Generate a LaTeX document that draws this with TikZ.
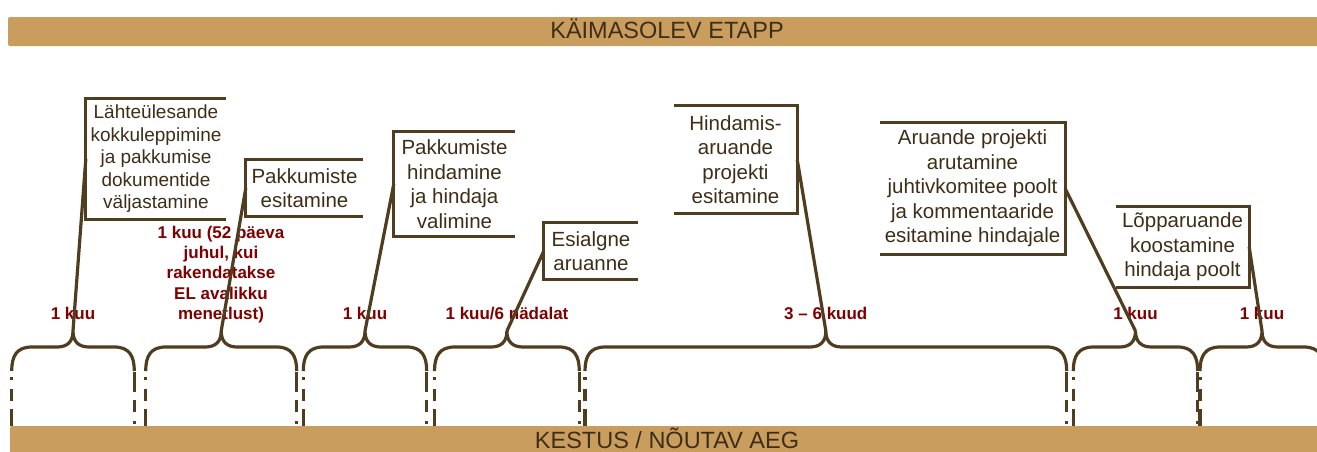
\documentclass[tikz,border=0pt]{standalone}
\usepackage{fontspec}
\setmainfont{Liberation Sans}

\definecolor{barbrown}{RGB}{201,157,94}
\definecolor{linebrown}{RGB}{80,60,30}
\definecolor{textbrown}{RGB}{62,46,24}
\definecolor{durred}{RGB}{128,0,0}

\begin{document}
\begin{tikzpicture}[x=1pt, y=-1pt,
  stage/.style={inner sep=0pt, align=center, text=textbrown, font=\fontsize{20.5}{24.5}\selectfont},
  frame/.style={draw=linebrown, line width=3.2pt},
  stub/.style={frame, dash pattern=on 3pt off 9pt on 12pt off 8pt on 20pt off 100pt},
  dur/.style={inner sep=0pt, align=center, text=durred, font=\fontsize{17}{20.4}\selectfont\bfseries},
  bartext/.style={inner sep=0pt, anchor=base, text=textbrown, font=\fontsize{23.5}{28}\selectfont}]

\clip (0,0) rectangle (1317,451);

% ========== Top bar ==========
\fill[barbrown, rounded corners=2pt] (8,17) rectangle (1330,46);
\node[bartext] (phase) at (667,38) {KÄIMASOLEV ETAPP};

% ========== Braces along the time line ==========
% left edge / right edge / number of the brace
\foreach \l/\r/\n in {11.7/134.3/1, 145.7/296.7/2, 303.3/426.7/3, 434.5/579.3/4,
                      585/1066.7/5, 1073.3/1197.7/6, 1200/1324/7} {
    \pgfmathsetmacro{\m}{(\l+\r)/2}
    \draw[frame] (\l,371) .. controls (\l,356) and (\l+5,347) .. (\l+20,347)
        -- (\m-16,347) .. controls (\m-6,347) and (\m,342) .. (\m,331)
        .. controls (\m,342) and (\m+6,347) .. (\m+16,347)
        -- (\r-20,347) .. controls (\r-5,347) and (\r,356) .. (\r,371);
    \coordinate (tip\n) at (\m,331);
    \draw[stub] (\l,377) -- (\l,426);
    \draw[stub] (\r,424) -- (\r,371);
}

% ========== Durations ==========
\node[dur, anchor=base] (d1) at (73,319.5) {1 kuu};
\node[dur, anchor=north] (d2) at (221,225.5) {1 kuu (52 päeva\\juhul, kui\\rakendatakse\\EL avalikku\\menetlust)};
\node[dur, anchor=base] (d3) at (365,319.5) {1 kuu};
\node[dur, anchor=base] (d4) at (507,319.5) {1 kuu/6 nädalat};
\node[dur, anchor=base] (d5) at (825.8,319.5) {3 – 6 kuud};
\node[dur, anchor=base] (d6) at (1135.5,319.5) {1 kuu};
\node[dur, anchor=base] (d7) at (1262,319.5) {1 kuu};

% ========== Stages ==========
\node[stage, minimum width=140pt, minimum height=120pt, font=\fontsize{19}{22.5}\selectfont] (brief) at (156,159)
    {Lähteülesande\\kokkuleppimine\\ja pakkumise\\dokumentide\\väljastamine};
\node[stage, minimum width=117pt, minimum height=56pt] (bids) at (304.5,188) {Pakkumiste\\esitamine};
\node[stage, minimum width=121pt, minimum height=104pt] (select) at (454.5,184)
    {Pakkumiste\\hindamine\\ja hindaja\\valimine};
\node[stage, minimum width=94pt, minimum height=56pt] (prelim) at (591,251) {Esialgne\\aruanne};
\node[stage, minimum width=123pt, minimum height=107pt] (draft) at (735.5,159.5)
    {Hindamis-\\aruande\\projekti\\esitamine};
\node[stage, minimum width=185pt, minimum height=131pt] (review) at (972.5,188.5)
    {Aruande projekti\\arutamine\\juhtivkomitee poolt\\ja kommentaaride\\esitamine hindajale};
\node[stage, minimum width=133pt, minimum height=80pt] (final) at (1182.5,247)
    {Lõpparuande\\koostamine\\hindaja poolt};

% open frames, closed on the side of the leader
\foreach \b in {brief, bids, select, prelim}
    \draw[frame] (\b.north east) -- (\b.north west) -- (\b.south west) -- (\b.south east);
\foreach \b in {draft, review, final}
    \draw[frame] (\b.north west) -- (\b.north east) -- (\b.south east) -- (\b.south west);

% leaders down to the brace tips
\draw[frame] (brief.west) -- (tip1);
\draw[frame] (bids.west) -- (tip2);
\draw[frame] (select.west) -- (tip3);
\draw[frame] (prelim.west) -- (tip4);
\draw[frame] (draft.east) -- (tip5);
\draw[frame] (review.east) -- (tip6);
\draw[frame] (final.east) -- (tip7);

% ========== Bottom bar ==========
\fill[barbrown, rounded corners=2pt] (10,426) rectangle (1330,470);
\node[bartext] (span) at (667,448.5) {KESTUS / NÕUTAV AEG};

\end{tikzpicture}
\end{document}
